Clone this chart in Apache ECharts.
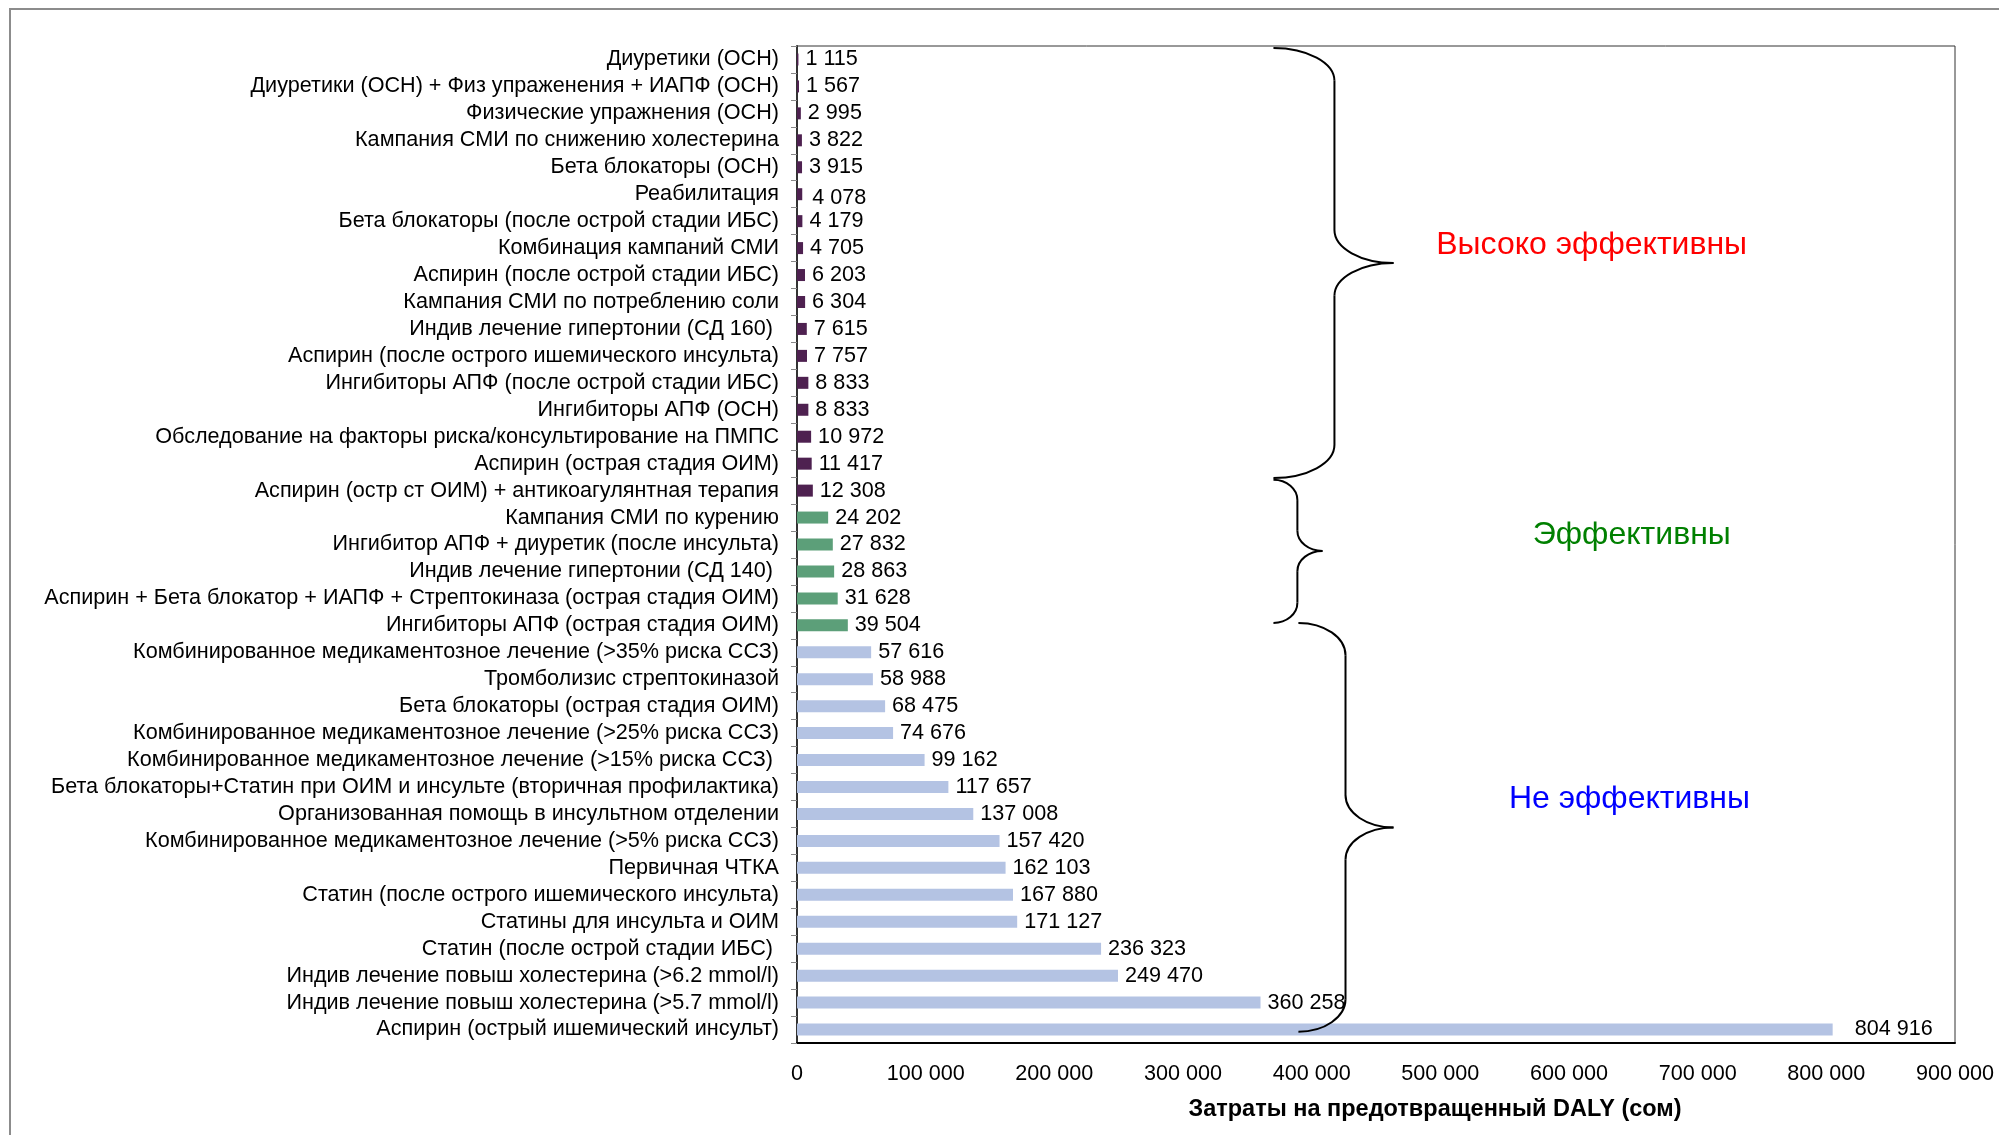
<!DOCTYPE html>
<html>
<head>
<meta charset="utf-8">
<script src="https://cdn.jsdelivr.net/npm/echarts@6/dist/echarts.min.js"></script>
<style>
html,body{margin:0;padding:0;background:#fff;}
#chart{width:1999px;height:1135px;}
</style>
</head>
<body>
<div id="chart"></div>
<script>
// ---- data ----
const categories = [
  'Диуретики (ОСН)',
  'Диуретики (ОСН) + Физ упраженения + ИАПФ (ОСН)',
  'Физические упражнения (ОСН)',
  'Кампания СМИ по снижению холестерина',
  'Бета блокаторы (ОСН)',
  'Реабилитация',
  'Бета блокаторы (после острой стадии ИБС)',
  'Комбинация кампаний СМИ',
  'Аспирин (после острой стадии ИБС)',
  'Кампания СМИ по потреблению соли',
  'Индив лечение гипертонии (СД 160) ',
  'Аспирин (после острого ишемического инсульта)',
  'Ингибиторы АПФ (после острой стадии ИБС)',
  'Ингибиторы АПФ (ОСН)',
  'Обследование на факторы риска/консультирование на ПМПС',
  'Аспирин (острая стадия ОИМ)',
  'Аспирин (остр ст ОИМ) + антикоагулянтная терапия',
  'Кампания СМИ по курению',
  'Ингибитор АПФ + диуретик (после инсульта)',
  'Индив лечение гипертонии (СД 140) ',
  'Аспирин + Бета блокатор + ИАПФ + Стрептокиназа (острая стадия ОИМ)',
  'Ингибиторы АПФ (острая стадия ОИМ)',
  'Комбинированное медикаментозное лечение (>35% риска ССЗ)',
  'Тромболизис стрептокиназой',
  'Бета блокаторы (острая стадия ОИМ)',
  'Комбинированное медикаментозное лечение (>25% риска ССЗ)',
  'Комбинированное медикаментозное лечение (>15% риска ССЗ) ',
  'Бета блокаторы+Статин при ОИМ и инсульте (вторичная профилактика)',
  'Организованная помощь в инсультном отделении',
  'Комбинированное медикаментозное лечение (>5% риска ССЗ)',
  'Первичная ЧТКА',
  'Статин (после острого ишемического инсульта)',
  'Статины для инсульта и ОИМ',
  'Статин (после острой стадии ИБС) ',
  'Индив лечение повыш холестерина (>6.2 mmol/l)',
  'Индив лечение повыш холестерина (>5.7 mmol/l)',
  'Аспирин (острый ишемический инсульт)'
];
const costPerDaly = [
  1115, 1567, 2995, 3822, 3915, 4078, 4179, 4705, 6203, 6304,
  7615, 7757, 8833, 8833, 10972, 11417, 12308,
  24202, 27832, 28863, 31628, 39504,
  57616, 58988, 68475, 74676, 99162, 117657, 137008, 157420,
  162103, 167880, 171127, 236323, 249470, 360258, 804916
];
// 0 = высоко эффективны, 1 = эффективны, 2 = не эффективны
const groupOf = [
  0,0,0,0,0,0,0,0,0,0,0,0,0,0,0,0,0,
  1,1,1,1,1,
  2,2,2,2,2,2,2,2,2,2,2,2,2,2,2
];
const groupNames = ['Высоко эффективны', 'Эффективны', 'Не эффективны'];
const xTicks = [0, 100000, 200000, 300000, 400000, 500000, 600000, 700000, 800000, 900000];
const axisTitle = 'Затраты на предотвращенный DALY (сом)';

// ---- styles ----
const barColors = ['#4e2150', '#5c9f79', '#b4c3e3'];
const textColors = ['#ff0000', '#008000', '#0000ff'];
const FONT = '"Liberation Sans", Arial, sans-serif';
const FS = 21.6;

function fmt(v) {
  return String(v).replace(/\B(?=(\d{3})+(?!\d))/g, ' ');
}

const chart = echarts.init(document.getElementById('chart'), null, {renderer: 'canvas'});

const seriesData = costPerDaly.map((v, i) => {
  const item = {value: v, itemStyle: {color: barColors[groupOf[i]]}};
  if (i === costPerDaly.length - 1) item.label = {distance: 22};
  if (i === 5) item.label = {offset: [3, 4]};
  return item;
});

chart.setOption({
  animation: false,
  backgroundColor: '#ffffff',
  textStyle: {fontFamily: FONT},
  grid: {left: 797, right: 44, top: 46, bottom: 92, show: true, borderColor: '#333', borderWidth: 1},
  xAxis: {
    type: 'value',
    min: xTicks[0],
    max: xTicks[xTicks.length - 1],
    interval: xTicks[1] - xTicks[0],
    name: axisTitle,
    nameLocation: 'middle',
    nameGap: 55,
    nameTextStyle: {fontFamily: FONT, fontSize: 23.5, fontWeight: 'bold', color: '#000', padding: [0, 0, 0, 118]},
    axisLine: {show: true, lineStyle: {color: '#000', width: 2}},
    axisTick: {show: false},
    splitLine: {show: false},
    axisLabel: {fontFamily: FONT, fontSize: FS, color: '#000', margin: 20, formatter: fmt}
  },
  yAxis: {
    type: 'category',
    inverse: true,
    data: categories,
    axisLine: {show: true, lineStyle: {color: '#333', width: 2}},
    axisTick: {show: true, length: 6, lineStyle: {color: '#888'}},
    axisLabel: {fontFamily: FONT, fontSize: FS, color: '#000', margin: 18, interval: 0}
  },
  series: [{
    type: 'bar',
    data: seriesData,
    barWidth: 12,
    label: {
      show: true,
      position: 'right',
      distance: 7,
      fontFamily: FONT,
      fontSize: FS,
      color: '#000',
      formatter: p => fmt(p.value)
    }
  }]
});

// ---- annotations: braces and group titles, positioned through the axes ----
function px(v) { return chart.convertToPixel({xAxisIndex: 0}, v); }
const yA = chart.convertToPixel({yAxisIndex: 0}, 0);
const yB = chart.convertToPixel({yAxisIndex: 0}, 1);
const band = yB - yA;
function py(f) { return yA + f * band; }

// brace spans in category-index units and value-axis units
const braces = [
  {top: -0.43, tip: 7.55, bot: 15.53, r: 1.22, x0: 370300, x1: 417700, x2: 463600},
  {top: 15.60, tip: 18.24, bot: 20.91, r: 0.75, x0: 370300, x1: 388900, x2: 408400},
  {top: 20.91, tip: 28.50, bot: 36.08, r: 1.20, x0: 389700, x1: 426300, x2: 463600}
];
const titlePos = [
  {x: 617600, f: 6.91},
  {x: 648800, f: 17.64},
  {x: 647000, f: 27.44}
];

const LS = {stroke: '#000', lineWidth: 2, fill: null};
function bez(x1, y1, c1x, c1y, c2x, c2y, x2, y2) {
  return {type: 'bezierCurve', silent: true, z: 100,
    shape: {x1: x1, y1: y1, cpx1: c1x, cpy1: c1y, cpx2: c2x, cpy2: c2y, x2: x2, y2: y2}, style: LS};
}
function seg(x1, y1, x2, y2) {
  return {type: 'line', silent: true, z: 100, shape: {x1: x1, y1: y1, x2: x2, y2: y2}, style: LS};
}
function braceElements(b) {
  const k = 0.5523;
  const x0 = px(b.x0), x1 = px(b.x1), x2 = px(b.x2);
  const yt = py(b.top), ym = py(b.tip), yb = py(b.bot), r = b.r * band;
  const a1 = x1 - x0, a2 = x2 - x1;
  return [
    bez(x0, yt, x0 + k * a1, yt, x1, yt + r - k * r, x1, yt + r),
    seg(x1, yt + r, x1, ym - r),
    bez(x1, ym - r, x1, ym - r + k * r, x2 - k * a2, ym, x2, ym),
    bez(x2, ym, x2 - k * a2, ym, x1, ym + r - k * r, x1, ym + r),
    seg(x1, ym + r, x1, yb - r),
    bez(x1, yb - r, x1, yb - r + k * r, x0 + k * a1, yb, x0, yb)
  ];
}

let elements = [{
  type: 'rect',
  shape: {x: 10, y: 9, width: 2200, height: 1300},
  style: {fill: null, stroke: '#8c8c8c', lineWidth: 2},
  silent: true,
  z: 0
}];
braces.forEach(b => { elements = elements.concat(braceElements(b)); });
titlePos.forEach((t, i) => {
  elements.push({
    type: 'text',
    x: px(t.x),
    y: py(t.f),
    style: {text: groupNames[i], fill: textColors[i], font: '32px ' + FONT, align: 'center', verticalAlign: 'middle'},
    silent: true,
    z: 100
  });
});
chart.setOption({graphic: {elements: elements}});
</script>
</body>
</html>
